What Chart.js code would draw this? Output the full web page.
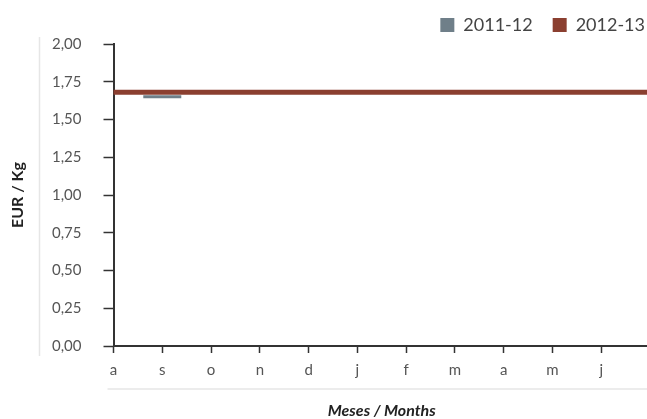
<!DOCTYPE html>
<html>
<head>
<meta charset="utf-8">
<script src="https://cdn.jsdelivr.net/npm/chart.js@4.4.1/dist/chart.umd.min.js"></script>
<style>
  html, body { margin: 0; padding: 0; background: #fff; overflow: hidden; }
  #wrap { position: absolute; left: 0; top: 0; width: 672px; height: 419px; }
</style>
</head>
<body>
<div id="wrap"><canvas id="chart"></canvas></div>
<script>
// Months, August to July
const months = ["a", "s", "o", "n", "d", "j", "f", "m", "a", "m", "j", "j"]
const season1112 = [null, 1.65, null, null, null, null, null, null, null, null, null, null]
const season1213 = [1.68, 1.68, 1.68, 1.68, 1.68, 1.68, 1.68, 1.68, 1.68, 1.68, 1.68, 1.68]
const yTicks = [0, 0.25, 0.5, 0.75, 1, 1.25, 1.5, 1.75, 2]

const FONT = "Lato, 'Open Sans', sans-serif"

// light separator lines of the original layout, and legend nudge
const decoLines = {
  id: "decoLines",
  afterLayout(chart) {
    const lg = chart.legend
    if (lg) { lg.left += 15; lg.right += 15 }
  },
  afterDraw(chart) {
    const { ctx, chartArea } = chart
    ctx.save()
    ctx.strokeStyle = "#e6e6e6"
    ctx.lineWidth = 1.5
    ctx.beginPath()
    ctx.moveTo(chartArea.left - 74, chartArea.top - 7)
    ctx.lineTo(chartArea.left - 74, chartArea.bottom + 10)
    ctx.moveTo(chartArea.left - 6, chartArea.bottom + 43)
    ctx.lineTo(chart.width, chartArea.bottom + 43)
    ctx.stroke()
    ctx.restore()
  }
}

new Chart(document.getElementById("chart"), {
  type: "line",
  data: {
    labels: months,
    datasets: [
      {
        label: "2011-12",
        data: season1112,
        borderColor: "#6f7f89",
        backgroundColor: "#6f7f89",
        showLine: false,
        pointStyle: "line",
        pointRadius: 19,
        pointBorderWidth: 3,
        pointHoverRadius: 19
      },
      {
        label: "2012-13",
        data: season1213,
        borderColor: "#8b3f30",
        backgroundColor: "#8b3f30",
        borderWidth: 5,
        pointRadius: 0,
        tension: 0
      }
    ]
  },
  options: {
    responsive: true,
    maintainAspectRatio: false,
    animation: false,
    layout: { padding: { left: 8, right: 22, top: -4, bottom: 0 } },
    plugins: {
      tooltip: { enabled: false },
      legend: {
        position: "top",
        align: "end",
        labels: {
          boxWidth: 14,
          boxHeight: 14,
          padding: 20,
          color: "#444",
          font: { family: FONT, size: 18 },
          generateLabels(chart) {
            return Chart.defaults.plugins.legend.labels.generateLabels(chart).map(l => {
              l.lineWidth = 0
              l.pointStyle = undefined
              return l
            })
          }
        }
      }
    },
    scales: {
      x: {
        offset: false,
        grid: { drawOnChartArea: false, tickLength: 7, color: "#333", tickWidth: 1.5 },
        border: { color: "#333", width: 2 },
        ticks: { color: "#555", font: { family: FONT, size: 15 }, padding: 8, autoSkip: false, maxRotation: 0 },
        title: {
          display: true,
          text: "Meses / Months",
          color: "#222",
          font: { family: FONT, size: 16, weight: "bold", style: "italic", lineHeight: 1 },
          padding: { top: 16, bottom: 0 }
        }
      },
      y: {
        min: 0,
        max: 2,
        afterBuildTicks(scale) {
          scale.ticks = yTicks.map(v => ({ value: v }))
        },
        grid: { drawOnChartArea: false, tickLength: 10, color: "#333", tickWidth: 1.5 },
        border: { color: "#333", width: 2 },
        ticks: {
          color: "#555",
          font: { family: FONT, size: 15 },
          padding: 22,
          callback: v => v.toFixed(2).replace(".", ",")
        },
        title: {
          display: true,
          text: "EUR / Kg",
          color: "#222",
          font: { family: FONT, size: 16, weight: "bold", lineHeight: 1 },
          padding: { top: 2, bottom: 4 }
        }
      }
    }
  },
  plugins: [decoLines]
})
</script>
</body>
</html>
